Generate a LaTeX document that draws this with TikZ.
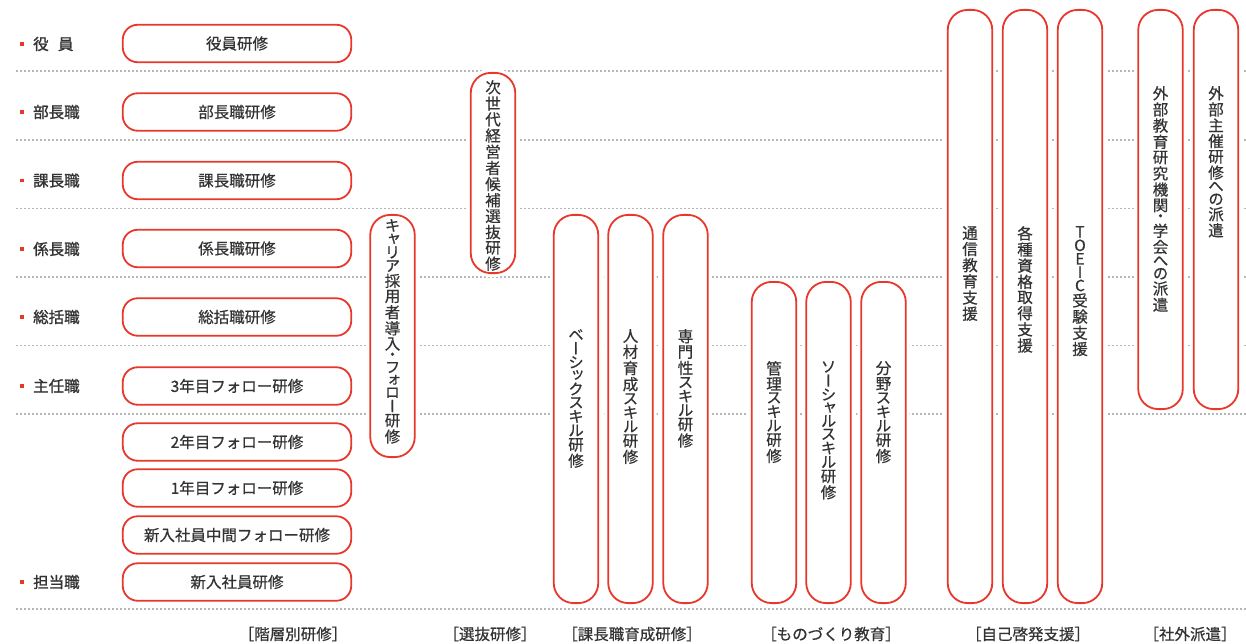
\documentclass[tikz,border=0pt]{standalone}
\usepackage{fontspec}
\setmainfont{Noto Sans CJK JP}[FakeBold=0.6]
\newfontfamily\tatefont{Noto Sans CJK JP}[RawFeature=+vert, FakeBold=0.6]
\newfontfamily\rankfont{Noto Sans CJK JP}[FakeBold=1.3]
\usetikzlibrary{positioning}
\definecolor{jred}{HTML}{E8382C}
\definecolor{jtext}{HTML}{333333}
\definecolor{jdots}{HTML}{B5B5B5}

% one character per line, for the upright columns
\ExplSyntaxOn
\NewDocumentCommand\tatetext{m}
  {
    \vbox
      {
        \tatefont
        \lineskiplimit=\maxdimen
        \lineskip=1.9pt
        \tl_map_inline:nn {#1} { \hbox_to_wd:nn {1.2em} { \hss ##1 \hss } }
      }
  }
\ExplSyntaxOff

\tikzset{
  gridline/.style={jdots, line width=1.8pt, dash pattern=on 1.8pt off 2.2pt},
  kenshu/.style={draw=jred, line width=1.8pt, fill=white, rounded corners=15pt,
    preaction={draw=white, line width=7.8pt},
    minimum width=228.5pt, minimum height=37.5pt, inner sep=0pt, text=jtext},
  tatebox/.style={draw=jred, line width=1.8pt, fill=white, rounded corners=20pt,
    preaction={draw=white, line width=7.8pt}, minimum width=44.5pt, inner sep=0pt},
  tatelabel/.style={inner sep=0pt, text=jtext},
  rowlabel/.style={anchor=west, inner sep=0pt, text=jtext, font=\rankfont\fontsize{15.5pt}{18pt}\selectfont},
  category/.style={inner sep=0pt, text=jtext, font=\fontsize{15.5pt}{17pt}\selectfont},
}

\begin{document}
\begin{tikzpicture}[x=1pt, y=-1pt, font=\fontsize{15.5pt}{18pt}\selectfont]
  \useasboundingbox[fill=white] (0,0) rectangle (1246,644);
  % dotted rows
  \draw[gridline] (16,71) -- (1246,71);
  \draw[gridline] (16,140) -- (1246,140);
  \draw[gridline] (16,208.5) -- (1246,208.5);
  \draw[gridline] (16,277) -- (1246,277);
  \draw[gridline] (16,345.5) -- (1246,345.5);
  \draw[gridline] (16,414) -- (1246,414);
  \draw[gridline] (16,609) -- (1246,609);
  % ranks
  \node[rowlabel] (l-yakuin) at (33,44) {役\hspace{0.6em}員};
  \node[rowlabel] (l-bucho) at (33,112) {部長職};
  \node[rowlabel] (l-kacho) at (33,180.5) {課長職};
  \node[rowlabel] (l-kakaricho) at (33,249) {係長職};
  \node[rowlabel] (l-sokatsu) at (33,317) {総括職};
  \node[rowlabel] (l-shunin) at (33,386) {主任職};
  \node[rowlabel] (l-tanto) at (33,582) {担当職};
  \fill[jred] ([xshift=-11pt]l-yakuin.west) ++(-1.6pt,-1.6pt) rectangle ++(3.2pt,3.2pt);
  \fill[jred] ([xshift=-11pt]l-bucho.west) ++(-1.6pt,-1.6pt) rectangle ++(3.2pt,3.2pt);
  \fill[jred] ([xshift=-11pt]l-kacho.west) ++(-1.6pt,-1.6pt) rectangle ++(3.2pt,3.2pt);
  \fill[jred] ([xshift=-11pt]l-kakaricho.west) ++(-1.6pt,-1.6pt) rectangle ++(3.2pt,3.2pt);
  \fill[jred] ([xshift=-11pt]l-sokatsu.west) ++(-1.6pt,-1.6pt) rectangle ++(3.2pt,3.2pt);
  \fill[jred] ([xshift=-11pt]l-shunin.west) ++(-1.6pt,-1.6pt) rectangle ++(3.2pt,3.2pt);
  \fill[jred] ([xshift=-11pt]l-tanto.west) ++(-1.6pt,-1.6pt) rectangle ++(3.2pt,3.2pt);
  % rank courses
  \node[kenshu] (yakuin) at (237,43.5) {役員研修};
  \node[kenshu] (bucho) at (237,112) {部長職研修};
  \node[kenshu] (kacho) at (237,180.5) {課長職研修};
  \node[kenshu] (kakaricho) at (237,248.5) {係長職研修};
  \node[kenshu] (sokatsu) at (237,317) {総括職研修};
  \node[kenshu] (follow3) at (237,386) {3年目フォロー研修};
  \node[kenshu] (follow2) at (237,442) {2年目フォロー研修};
  \node[kenshu] (follow1) at (237,488) {1年目フォロー研修};
  \node[kenshu] (chukan) at (237,535) {新入社員中間フォロー研修};
  \node[kenshu] (shinnyu) at (237,582) {新入社員研修};
  % upright columns
  \node[tatebox, minimum height=242.2pt] (career) at (392.5,336) {};
  \node[tatebox, minimum height=200.2pt] (jisedai) at (493,173) {};
  \node[tatebox, minimum height=388.2pt] (basic) at (576,409) {};
  \node[tatebox, minimum height=388.2pt] (jinzai) at (630.5,409) {};
  \node[tatebox, minimum height=388.2pt] (senmon) at (685.5,409) {};
  \node[tatebox, minimum height=321.2pt] (kanri) at (774,442.5) {};
  \node[tatebox, minimum height=321.2pt] (social) at (828.5,442.5) {};
  \node[tatebox, minimum height=321.2pt] (bunya) at (883.5,442.5) {};
  \node[tatebox, minimum height=593.2pt] (tsushin) at (970,306.5) {};
  \node[tatebox, minimum height=593.2pt] (shikaku) at (1025,306.5) {};
  \node[tatebox, minimum height=593.2pt] (toeic) at (1080,306.5) {};
  \node[tatebox, minimum height=399.2pt] (gaibu) at (1160.5,209.5) {};
  \node[tatebox, minimum height=399.2pt] (shusai) at (1216,209.5) {};
  % column texts
  \node[tatelabel, below=5pt of career.north] (career-t) {\tatetext{キャリア採用者導入・フォロー研修}};
  \node[tatelabel, below=8pt of jisedai.north] (jisedai-t) {\tatetext{次世代経営者候補選抜研修}};
  \node[tatelabel, below=115pt of basic.north] (basic-t) {\tatetext{ベーシックスキル研修}};
  \node[tatelabel, below=115pt of jinzai.north] (jinzai-t) {\tatetext{人材育成スキル研修}};
  \node[tatelabel, below=115pt of senmon.north] (senmon-t) {\tatetext{専門性スキル研修}};
  \node[tatelabel, below=80pt of kanri.north] (kanri-t) {\tatetext{管理スキル研修}};
  \node[tatelabel, below=80pt of social.north] (social-t) {\tatetext{ソーシャルスキル研修}};
  \node[tatelabel, below=80pt of bunya.north] (bunya-t) {\tatetext{分野スキル研修}};
  \node[tatelabel, below=217pt of tsushin.north] (tsushin-t) {\tatetext{通信教育支援}};
  \node[tatelabel, below=217pt of shikaku.north] (shikaku-t) {\tatetext{各種資格取得支援}};
  \node[tatelabel, below=217pt of toeic.north] (toeic-t) {\tatetext{TOEIC受験支援}};
  \node[tatelabel, below=77pt of gaibu.north] (gaibu-t) {\tatetext{外部教育研究機関・学会への派遣}};
  \node[tatelabel, below=77pt of shusai.north] (shusai-t) {\tatetext{外部主催研修への派遣}};
  % categories
  \node[category] (c-kaiso) at (293,634) {［階層別研修］};
  \node[category] (c-senbatsu) at (490,634) {［選抜研修］};
  \node[category] (c-kacho) at (632,634) {［課長職育成研修］};
  \node[category] (c-monozukuri) at (831,634) {［ものづくり教育］};
  \node[category] (c-jiko) at (1028,634) {［自己啓発支援］};
  \node[category] (c-shagai) at (1190,634) {［社外派遣］};
\end{tikzpicture}
\end{document}
